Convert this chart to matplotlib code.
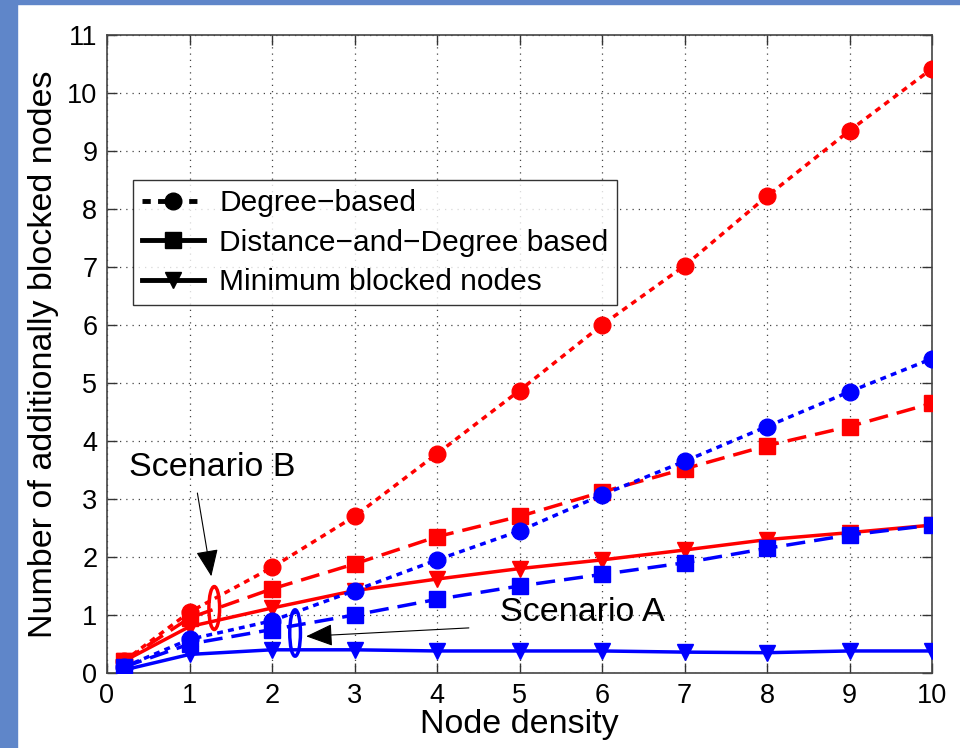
import matplotlib
matplotlib.use('Agg')
import matplotlib.pyplot as plt
from matplotlib.lines import Line2D
from matplotlib.patches import Ellipse, Rectangle

plt.rcParams['font.family'] = ['Liberation Sans', 'DejaVu Sans']

density = [0.2, 1, 2, 3, 4, 5, 6, 7, 8, 9, 10]

# scenario B (red)
deg_b = [0.2, 1.05, 1.82, 2.70, 3.78, 4.87, 6.00, 7.02, 8.22, 9.35, 10.42]
dist_b = [0.2, 0.95, 1.45, 1.88, 2.35, 2.70, 3.12, 3.52, 3.92, 4.25, 4.65]
min_b = [0.2, 0.80, 1.12, 1.42, 1.62, 1.80, 1.95, 2.12, 2.30, 2.42, 2.55]

# scenario A (blue)
deg_a = [0.1, 0.58, 0.90, 1.42, 1.95, 2.45, 3.07, 3.65, 4.25, 4.85, 5.42]
dist_a = [0.1, 0.50, 0.75, 1.00, 1.27, 1.50, 1.70, 1.90, 2.15, 2.38, 2.55]
min_a = [0.05, 0.32, 0.40, 0.40, 0.38, 0.38, 0.38, 0.36, 0.35, 0.38, 0.38]

legend_labels = ['Degree\u2212based', 'Distance\u2212and\u2212Degree based', 'Minimum blocked nodes']

fig = plt.figure(figsize=(9.6, 7.48), dpi=100, facecolor='white')
# slide border
fig.patches.append(Rectangle((0, 0), 17/960, 1, transform=fig.transFigure,
                             color='#5f86c9', zorder=0))
fig.patches.append(Rectangle((0, 1 - 4/748), 1, 4/748, transform=fig.transFigure,
                             color='#5f86c9', zorder=0))

ax = fig.add_axes([107/960, 75/748, 825/960, 638/748])

dot = (0, (1.7, 1.5))
dash = (0, (5.5, 2.6))
lw = 2.5
ms = 12

for col, d, s, m in [('red', deg_b, dist_b, min_b), ('blue', deg_a, dist_a, min_a)]:
    ax.plot(density, d, color=col, ls=dot, lw=lw, marker='o', ms=ms, zorder=3)
    ax.plot(density, s, color=col, ls=dash, lw=lw, marker='s', ms=ms - 1, zorder=3)
    ax.plot(density, m, color=col, ls='-', lw=lw, marker='v', ms=ms, zorder=3)

ax.set_xlim(0, 10)
ax.set_ylim(0, 11)
ax.set_xticks(range(0, 11))
ax.set_yticks(range(0, 12))
ax.grid(True, color='#444444', ls=(0, (1, 4)), lw=0.9)
ax.tick_params(direction='in', top=True, right=True, length=7, width=1,
               labelsize=19.5, pad=7, color='#333333')
for sp in ax.spines.values():
    sp.set_color('#444444')
    sp.set_linewidth(1.2)

ax.set_xlabel('Node density', fontsize=24.5, labelpad=0)
ax.set_ylabel('Number of additionally blocked nodes', fontsize=24.5, labelpad=6)

handles = [
    Line2D([], [], color='black', ls=dot, lw=3.5, marker='o', ms=12),
    Line2D([], [], color='black', ls='-', lw=3.5, marker='s', ms=11),
    Line2D([], [], color='black', ls='-', lw=3.5, marker='v', ms=12),
]
leg = ax.legend(handles, legend_labels, loc='upper left', bbox_to_anchor=(0.031, 0.772),
                fontsize=21.5, frameon=True, fancybox=False, edgecolor='black',
                handlelength=2.1, handletextpad=0.5, borderpad=0.3, labelspacing=0.38,
                borderaxespad=0)
leg.get_frame().set_linewidth(1.0)

# scenario annotations
ax.add_patch(Ellipse((1.30, 1.12), 0.13, 0.74, fill=False, edgecolor='red', lw=2.5, zorder=4))
ax.add_patch(Ellipse((2.28, 0.69), 0.13, 0.80, fill=False, edgecolor='blue', lw=2.5, zorder=4))
ax.annotate('', xy=(1.27, 1.62), xytext=(1.09, 3.15),
            arrowprops=dict(arrowstyle='-|>,head_length=0.6,head_width=0.25',
                            color='black', lw=0.8, mutation_scale=28))
ax.annotate('', xy=(2.38, 0.63), xytext=(4.42, 0.78),
            arrowprops=dict(arrowstyle='-|>,head_length=0.6,head_width=0.25',
                            color='black', lw=0.8, mutation_scale=28))
ax.text(0.27, 3.55, 'Scenario B', fontsize=24.5, va='center', ha='left')
ax.text(4.76, 1.05, 'Scenario A', fontsize=24.5, va='center', ha='left')

fig.savefig('out.png', dpi=100, facecolor='white')
